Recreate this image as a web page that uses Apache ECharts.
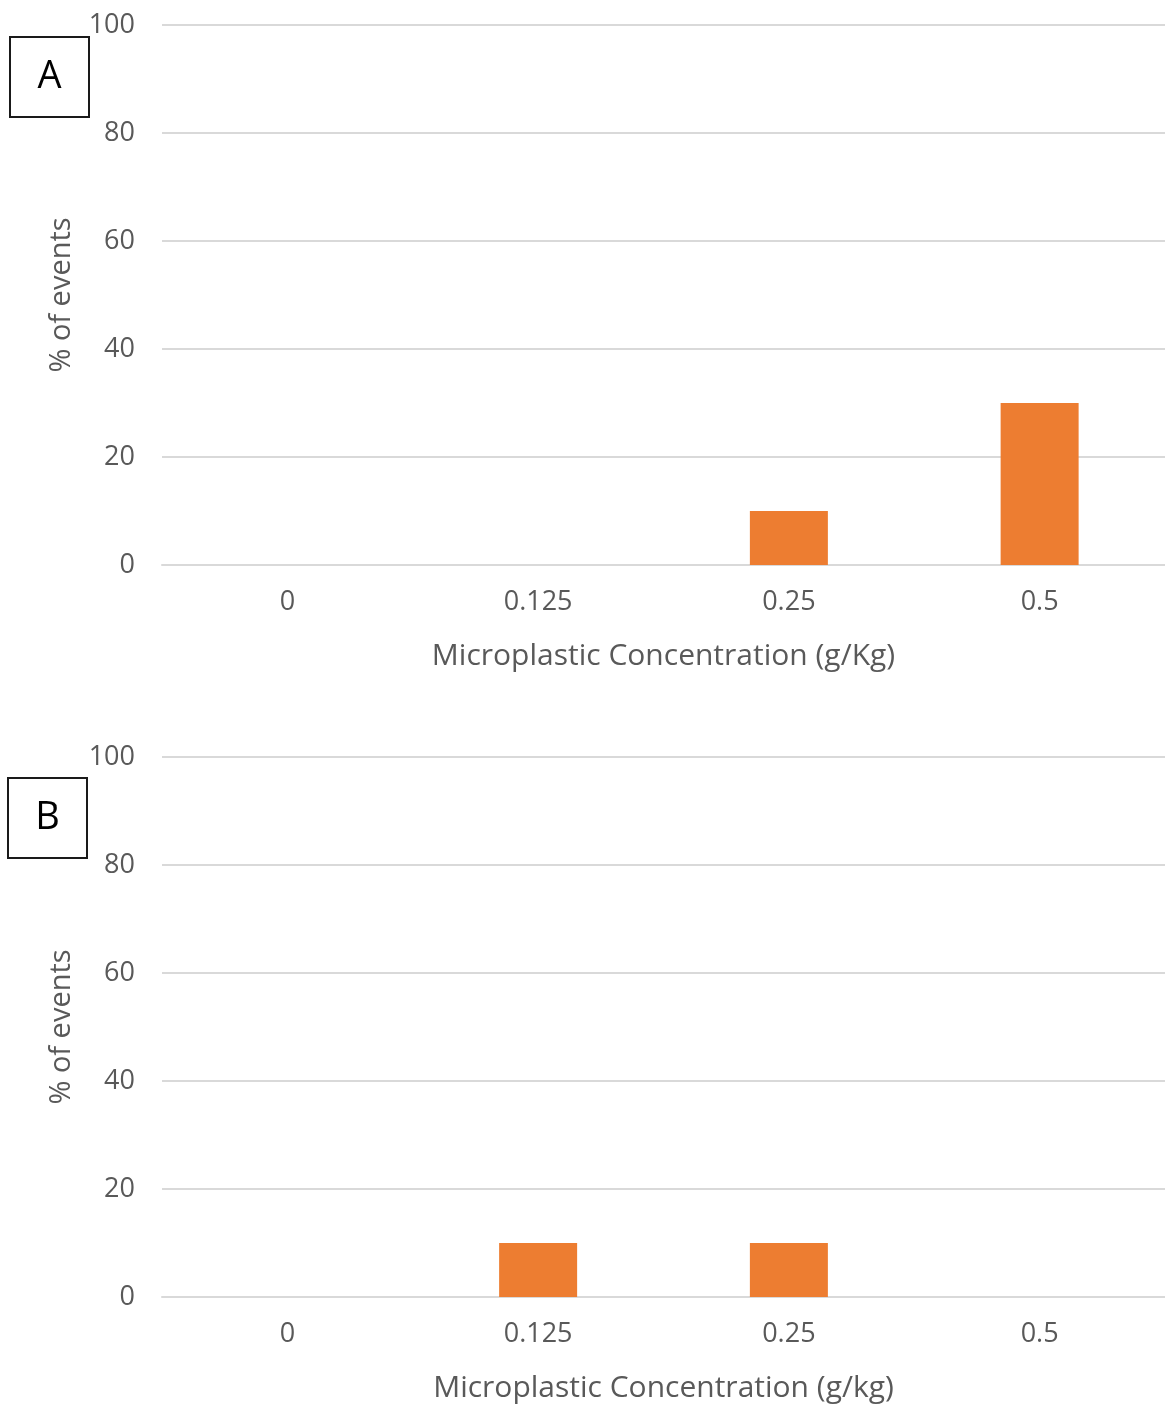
<!DOCTYPE html>
<html>
<head>
<meta charset="utf-8">
<script src="https://cdn.jsdelivr.net/npm/echarts@6/dist/echarts.min.js"></script>
<style>
  html, body { margin: 0; padding: 0; background: #fff; }
  #chart { width: 1165px; height: 1405px; }
</style>
</head>
<body>
<div id="chart"></div>
<script>
// Concentrations tested (g/kg) and the share of events at each one
const concentrations = ['0', '0.125', '0.25', '0.5'];
const eventsA = [0, 0, 10, 30];
const eventsB = [0, 10, 10, 0];
const yTicks = [0, 20, 40, 60, 80, 100];
const xTitleA = 'Microplastic Concentration (g/Kg)';
const xTitleB = 'Microplastic Concentration (g/kg)';
const yTitle = '% of events';

const FONT = '"Open Sans", "Noto Sans", sans-serif';
const GREY = '#595959';
const GRID_LINE = '#d9d9d9';
const BAR = '#ED7D31';

const chart = echarts.init(document.getElementById('chart'), null, { renderer: 'canvas' });

function xAxis(idx, title) {
  return {
    type: 'category',
    gridIndex: idx,
    data: concentrations,
    axisTick: { show: false },
    axisLine: { show: true, lineStyle: { color: GRID_LINE, width: 2 } },
    axisLabel: { color: GREY, fontSize: 27, fontFamily: FONT, margin: 24 },
    name: title,
    nameLocation: 'middle',
    nameGap: 76,
    nameTextStyle: { color: GREY, fontSize: 30, fontFamily: FONT }
  };
}

function yAxis(idx) {
  return {
    type: 'value',
    gridIndex: idx,
    min: yTicks[0],
    max: yTicks[yTicks.length - 1],
    interval: yTicks[1] - yTicks[0],
    axisLine: { show: false },
    axisTick: { show: false },
    splitLine: { lineStyle: { color: GRID_LINE, width: 2 } },
    axisLabel: { color: GREY, fontSize: 27, fontFamily: FONT, margin: 27 },
    name: yTitle,
    nameLocation: 'middle',
    nameGap: 86,
    nameTextStyle: { color: GREY, fontSize: 29, fontFamily: FONT }
  };
}

function panelBox(x, y, letter) {
  return {
    type: 'group',
    left: x,
    top: y,
    children: [
      { type: 'rect', shape: { x: 0, y: 0, width: 79, height: 80 },
        style: { fill: '#fff', stroke: '#1a1a1a', lineWidth: 2 } },
      { type: 'text', x: 39.5, y: 40,
        style: { text: letter, fill: '#000', font: '38px ' + FONT,
                 textAlign: 'center', textVerticalAlign: 'middle' } }
    ]
  };
}

chart.setOption({
  backgroundColor: '#fff',
  animation: false,
  grid: [
    { left: 162, top: 25, width: 1012, height: 540 },
    { left: 162, top: 757, width: 1012, height: 540 }
  ],
  xAxis: [xAxis(0, xTitleA), xAxis(1, xTitleB)],
  yAxis: [yAxis(0), yAxis(1)],
  series: [
    { type: 'bar', xAxisIndex: 0, yAxisIndex: 0, data: eventsA,
      barWidth: 78, itemStyle: { color: BAR } },
    { type: 'bar', xAxisIndex: 1, yAxisIndex: 1, data: eventsB,
      barWidth: 78, itemStyle: { color: BAR } }
  ],
  graphic: [panelBox(9, 36, 'A'), panelBox(7, 777, 'B')]
});
</script>
</body>
</html>
